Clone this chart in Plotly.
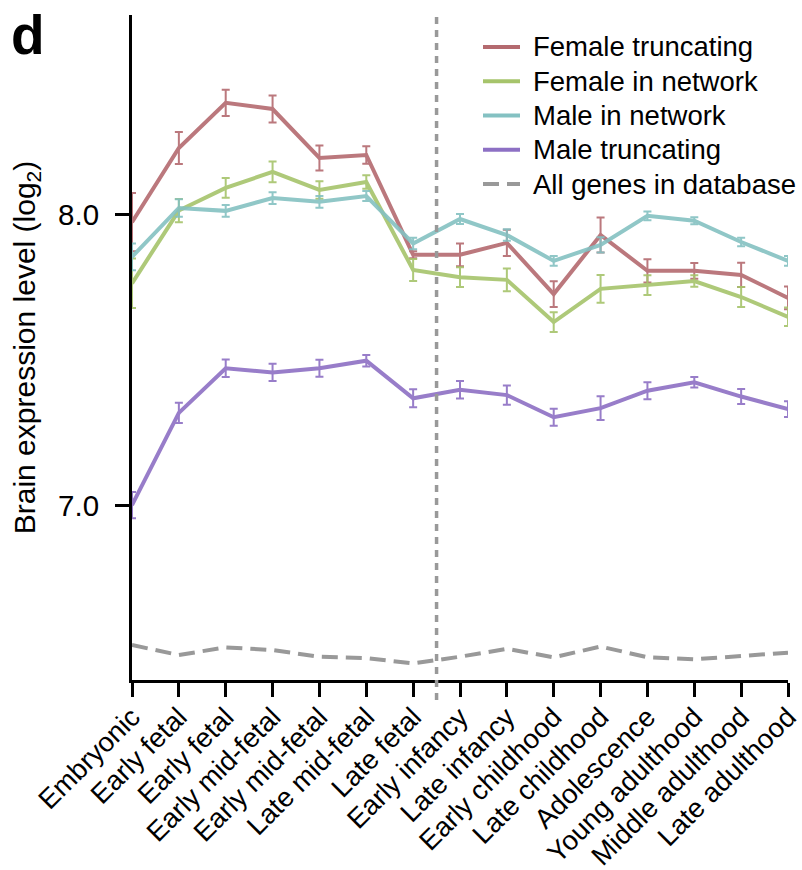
import plotly.graph_objects as go

# Developmental stages (x axis, in order)
stages = ["Embryonic", "Early fetal", "Early fetal", "Early mid-fetal", "Early mid-fetal",
          "Late mid-fetal", "Late fetal", "Early infancy", "Late infancy", "Early childhood",
          "Late childhood", "Adolescence", "Young adulthood", "Middle adulthood", "Late adulthood"]

# Mean brain expression level (log2) and standard errors per gene set
female_trunc = [7.975, 8.230, 8.385, 8.364, 8.196, 8.206, 7.863, 7.863, 7.904, 7.728,
                7.931, 7.808, 7.808, 7.794, 7.715]
female_trunc_err = [0.100, 0.055, 0.045, 0.046, 0.043, 0.030, 0.012, 0.039, 0.045, 0.044,
                    0.060, 0.040, 0.027, 0.042, 0.039]

female_net = [7.765, 8.015, 8.093, 8.148, 8.086, 8.113, 7.811, 7.786, 7.777, 7.632,
              7.746, 7.759, 7.773, 7.718, 7.650]
female_net_err = [0.085, 0.040, 0.034, 0.036, 0.030, 0.023, 0.038, 0.034, 0.039, 0.034,
                  0.048, 0.034, 0.020, 0.034, 0.032]

male_net = [7.856, 8.024, 8.014, 8.058, 8.045, 8.065, 7.902, 7.986, 7.931, 7.842,
            7.897, 7.997, 7.980, 7.907, 7.842]
male_net_err = [0.046, 0.030, 0.020, 0.020, 0.020, 0.017, 0.020, 0.017, 0.020, 0.017,
                0.026, 0.015, 0.012, 0.015, 0.017]

male_trunc = [7.003, 7.320, 7.473, 7.459, 7.473, 7.499, 7.370, 7.399, 7.381, 7.305,
              7.336, 7.396, 7.425, 7.376, 7.333]
male_trunc_err = [0.045, 0.035, 0.030, 0.030, 0.029, 0.020, 0.031, 0.030, 0.033, 0.029,
                  0.041, 0.029, 0.018, 0.026, 0.027]

all_genes = [6.522, 6.488, 6.514, 6.505, 6.482, 6.477, 6.459, 6.482, 6.509, 6.480,
             6.517, 6.480, 6.473, 6.486, 6.496]

y_tick_vals = [7.0, 8.0]
y_tick_text = ["7.0", "8.0"]

FONT = "Liberation Sans, Arial, Helvetica, sans-serif"
W, H = 802, 870
ML, MR, MT, MB = 132, 14, 15, 190
PW, PH = W - ML - MR, H - MT - MB


def px_to_paper(px, py):
    """Convert pixel coordinates (from the top-left of the page) to paper coordinates."""
    return (px - ML) / PW, (H - MB - py) / PH


x = list(range(len(stages)))

series = [
    ("Female truncating", female_trunc, female_trunc_err, "#b46a6f", "solid"),
    ("Female in network", female_net, female_net_err, "#a6c46b", "solid"),
    ("Male in network", male_net, male_net_err, "#84c1c2", "solid"),
    ("Male truncating", male_trunc, male_trunc_err, "#8d70c4", "solid"),
    ("All genes in database", all_genes, None, "#999999", "16px,8px"),
]

fig = go.Figure()
for name, vals, errs, color, dash in series:
    kw = {}
    if errs is not None:
        kw["error_y"] = dict(type="data", array=errs, visible=True,
                             color=color, thickness=2, width=4)
    fig.add_trace(go.Scatter(
        x=x, y=vals, mode="lines", name=name, showlegend=False,
        line=dict(color=color, width=4, dash=dash),
        opacity=0.9 if errs is not None else 1.0, **kw,
    ))

# Key in the upper right: a line sample and a label per series
for i, (name, _, _, color, dash) in enumerate(series):
    cy = 47 + i * 34.25
    x0, y0 = px_to_paper(483, cy)
    x1, _ = px_to_paper(520, cy)
    fig.add_shape(type="line", xref="paper", yref="paper", x0=x0, x1=x1, y0=y0, y1=y0,
                  line=dict(color=color, width=4, dash=dash), layer="above")
    tx, ty = px_to_paper(531, cy)
    fig.add_annotation(text=name, xref="paper", yref="paper", x=tx, y=ty,
                       xanchor="left", yanchor="middle", showarrow=False,
                       font=dict(family=FONT, size=27.5, color="black"))

# Prenatal / postnatal boundary
fig.add_shape(type="line", xref="x", yref="paper", x0=6.5, x1=6.5, y0=-0.03, y1=1.0,
              line=dict(color="#999999", width=3.5, dash="7px,6px"), layer="above")

# Panel letter
lx, ly = px_to_paper(28, 35)
fig.add_annotation(text="<b>d</b>", xref="paper", yref="paper",
                   x=lx, y=ly, xanchor="center", yanchor="middle",
                   showarrow=False, font=dict(family=FONT, size=55, color="black"))

fig.update_layout(
    width=W, height=H,
    margin=dict(l=ML, r=MR, t=MT, b=MB, autoexpand=False),
    paper_bgcolor="white", plot_bgcolor="white",
    font=dict(family=FONT, size=29, color="black"),
    showlegend=False,
)

fig.update_xaxes(
    range=[0, 14], tickmode="array", tickvals=x, ticktext=stages,
    tickangle=-45, ticks="outside", ticklen=14, tickwidth=3, tickcolor="black",
    showline=True, linewidth=3, linecolor="black", showgrid=False, zeroline=False,
    tickfont=dict(family=FONT, size=27.5), automargin=False, ticklabeloverflow="allow",
    ticklabelstandoff=-7,
)
fig.update_yaxes(
    range=[6.402, 8.687], tickmode="array", tickvals=y_tick_vals, ticktext=y_tick_text,
    ticks="outside", ticklen=14, tickwidth=3, tickcolor="black",
    showline=True, linewidth=3, linecolor="black", showgrid=False, zeroline=False,
    tickfont=dict(family=FONT, size=29.5), ticklabelstandoff=10, automargin=False,
    title=dict(text="Brain expression level (log<sub>2</sub>)", standoff=14,
               font=dict(family=FONT, size=30)),
)

fig.write_html("out.html")
